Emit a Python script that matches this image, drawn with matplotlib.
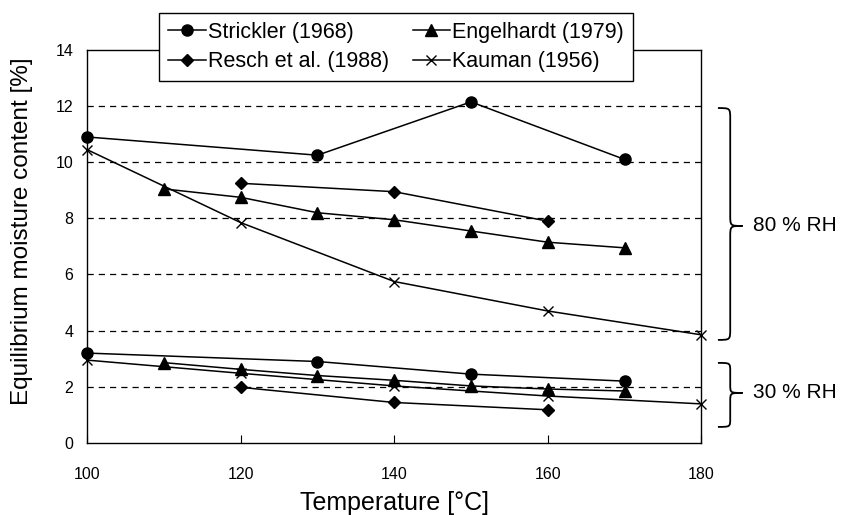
import matplotlib
matplotlib.use("Agg")
import matplotlib.pyplot as plt
from matplotlib.path import Path
from matplotlib.patches import PathPatch
import matplotlib.transforms as mtransforms

plt.rcParams["font.family"] = ["Liberation Sans", "DejaVu Sans"]

# 80 % RH series
strickler_t80 = [100, 130, 150, 170]
strickler_m80 = [10.9, 10.25, 12.15, 10.1]
engel_t80 = [110, 120, 130, 140, 150, 160, 170]
engel_m80 = [9.05, 8.75, 8.2, 7.95, 7.55, 7.15, 6.95]
resch_t80 = [120, 140, 160]
resch_m80 = [9.25, 8.95, 7.9]
kauman_t80 = [100, 120, 140, 160, 180]
kauman_m80 = [10.45, 7.85, 5.75, 4.7, 3.85]

# 30 % RH series
strickler_t30 = [100, 130, 150, 170]
strickler_m30 = [3.2, 2.9, 2.45, 2.2]
engel_t30 = [110, 120, 130, 140, 150, 160, 170]
engel_m30 = [2.86, 2.62, 2.4, 2.23, 2.03, 1.92, 1.85]
resch_t30 = [120, 140, 160]
resch_m30 = [1.98, 1.44, 1.18]
kauman_t30 = [100, 120, 140, 160, 180]
kauman_m30 = [2.95, 2.48, 2.03, 1.67, 1.39]

xticks = [100, 120, 140, 160, 180]
yticks = [0, 2, 4, 6, 8, 10, 12, 14]

fig = plt.figure(figsize=(8.45, 5.15), dpi=100)
ax = fig.add_axes([0.103, 0.140, 0.727, 0.763])

styles = [
    ("Strickler (1968)", "o", 8, strickler_t80, strickler_m80, strickler_t30, strickler_m30),
    ("Engelhardt (1979)", "^", 8, engel_t80, engel_m80, engel_t30, engel_m30),
    ("Resch et al. (1988)", "D", 6, resch_t80, resch_m80, resch_t30, resch_m30),
    ("Kauman (1956)", "x", 7, kauman_t80, kauman_m80, kauman_t30, kauman_m30),
]
handles = {}
for label, mk, ms, t80, m80, t30, m30 in styles:
    kw = dict(color="black", lw=1.1, marker=mk, markersize=ms, clip_on=False, zorder=3)
    if mk == "x":
        kw["markeredgewidth"] = 1.0
    h, = ax.plot(t80, m80, label=label, **kw)
    ax.plot(t30, m30, **kw)
    handles[label] = h

ax.set_xlim(100, 180)
ax.set_ylim(0, 14)
ax.set_xticks(xticks)
ax.set_yticks(yticks)
ax.tick_params(axis="x", direction="in", length=6, pad=17, labelsize=11.5)
ax.tick_params(axis="y", length=0, pad=10, labelsize=11.5)
for y in yticks[1:-1]:
    ax.axhline(y, color="black", lw=0.9, ls=(0, (5, 4)), zorder=1)
for s in ax.spines.values():
    s.set_linewidth(1.0)

ax.set_xlabel("Temperature [°C]", fontsize=18, labelpad=7)
ax.set_ylabel("Equilibrium moisture content [%]", fontsize=17.5)
ax.yaxis.set_label_coords(-0.088, 0.54)

# curly braces to the right of the plot
trans = mtransforms.blended_transform_factory(ax.transAxes, ax.transData)


def brace(y_top, y_bot, y_mid, r=0.4, x0=1.027, xm=1.047, x1=1.067):
    verts = [
        (x0, y_top), (xm, y_top), (xm, y_top), (xm, y_top - r),
        (xm, y_mid + r),
        (xm, y_mid), (xm, y_mid), (x1, y_mid),
        (xm, y_mid), (xm, y_mid), (xm, y_mid - r),
        (xm, y_bot + r),
        (xm, y_bot), (xm, y_bot), (x0, y_bot),
    ]
    codes = [Path.MOVETO, Path.CURVE4, Path.CURVE4, Path.CURVE4,
             Path.LINETO,
             Path.CURVE4, Path.CURVE4, Path.CURVE4,
             Path.CURVE4, Path.CURVE4, Path.CURVE4,
             Path.LINETO,
             Path.CURVE4, Path.CURVE4, Path.CURVE4]
    p = PathPatch(Path(verts, codes), transform=trans, fill=False,
                  lw=1.3, color="black", clip_on=False)
    ax.add_patch(p)


brace(11.93, 3.67, 7.73)
brace(2.85, 0.57, 1.78, r=0.3)
ax.text(1.084, 7.73, "80 % RH", transform=trans, fontsize=15, va="center", ha="left")
ax.text(1.084, 1.78, "30 % RH", transform=trans, fontsize=15, va="center", ha="left")

# ncol=2 fills column-wise: Strickler/Resch left, Engelhardt/Kauman right
order = ["Strickler (1968)", "Resch et al. (1988)", "Engelhardt (1979)", "Kauman (1956)"]
leg = fig.legend(handles=[handles[k] for k in order], loc="upper left",
                 bbox_to_anchor=(0.188, 0.975),
                 ncol=2, fontsize=15.5, frameon=True, fancybox=False, framealpha=1,
                 edgecolor="black", handlelength=1.75, handletextpad=0.1,
                 columnspacing=1.1, labelspacing=0.38, borderpad=0.42, borderaxespad=0)
leg.get_frame().set_linewidth(1.0)
leg.set_zorder(5)

fig.savefig("out.png", dpi=100)
